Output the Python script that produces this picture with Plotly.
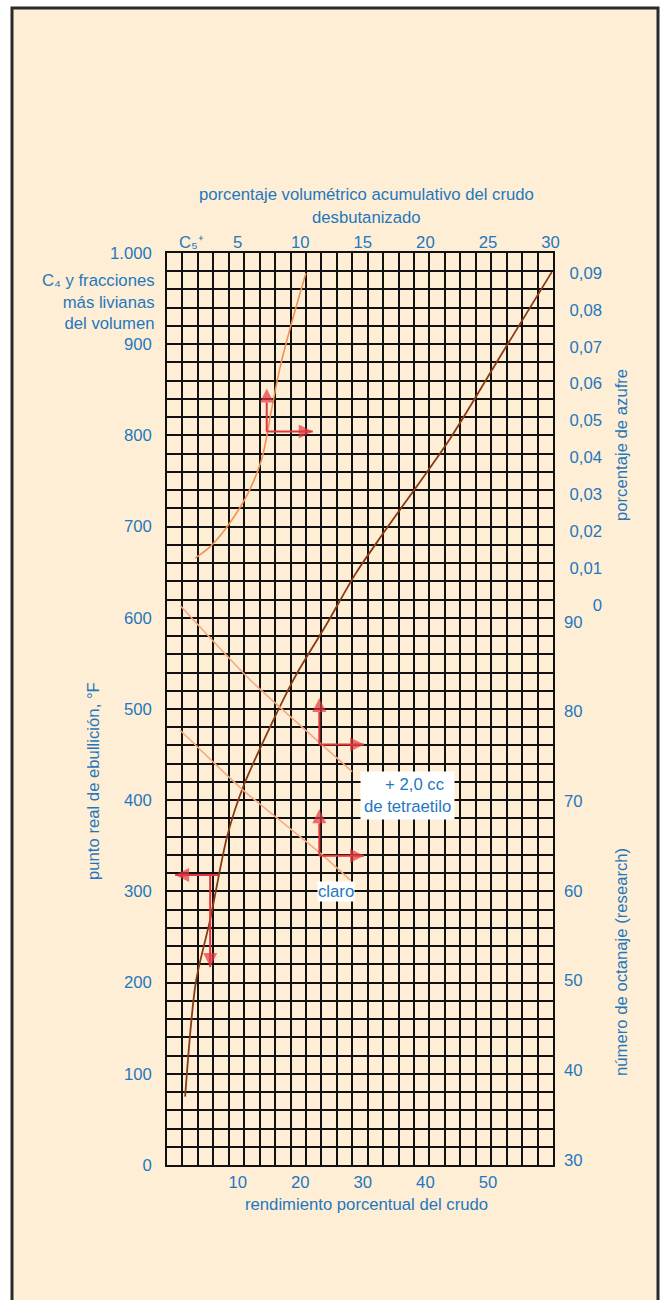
import plotly.graph_objects as go

# ---------------- data ----------------
# True boiling point curve (bottom axis: % crude yield, left axis: °F)
tbp_yield = [1.6, 3.3, 5.6, 8.3, 10.9, 18.9, 24.3, 28.9, 33.4, 44.0, 51.9, 60.2]
tbp_temp = [75, 200, 269, 360, 415, 532, 594, 649, 694, 797, 886, 979]

# Sulfur curve (bottom axis, sulfur %)
sulf_yield = [3.2, 5.6, 8.3, 11.5, 13.8, 15.4, 16.8, 18.4, 20.9]
sulf_pct = [0.0127, 0.0158, 0.0212, 0.0298, 0.0393, 0.0529, 0.0646, 0.0751, 0.0899]

# Octane number lines (bottom axis, research octane)
oct_tel_yield = [0.8, 12.0, 28.3]
oct_tel = [91.8, 83.5, 73.3]
oct_clear_yield = [0.8, 10.9, 23.2, 28.0]
oct_clear = [77.9, 71.2, 64.2, 61.2]

# tick labels
temp_ticks = [0, 100, 200, 300, 400, 500, 600, 700, 800, 900, 1000]
temp_text = ["0", "100", "200", "300", "400", "500", "600", "700", "800", "900", "1.000"]
yield_ticks = [10, 20, 30, 40, 50]
debut_ticks = [1.3, 5, 10, 15, 20, 25, 30]
debut_text = ["C\u2085\u207a", "5", "10", "15", "20", "25", "30"]
sulf_ticks = [0, 0.01, 0.02, 0.03, 0.04, 0.05, 0.06, 0.07, 0.08, 0.09]
sulf_text = ["0", "0,01", "0,02", "0,03", "0,04", "0,05", "0,06", "0,07", "0,08", "0,09"]
oct_ticks = [30, 40, 50, 60, 70, 80, 90]

# reading arrows: corner point and arrow tips
sulf_arrow = dict(x=14.64, y=0.0470, up=0.0587, right=22.0)
oct_tel_arrow = dict(x=23.05, y=76.3, up=81.5, right=30.2)
oct_clear_arrow = dict(x=23.05, y=63.9, up=69.1, right=30.2)
tbp_arrow = dict(x=6.9, y=318, left=0.0, down_x=5.6, down=217)

# ---------------- style ----------------
BG = "#FEEED6"
BLUE = "#1f78bd"
GRID = "#111111"
BROWN = "#8a3a10"
ORANGE = "#f29150"
SALMON = "#f6a882"
RED = "#e2363e"
FONT = "Liberation Sans, Arial, sans-serif"
FS = 16.7

W, H = 661, 1300
ML, MR, MT, MB = 167, 40, 253, 135
PW = W - ML - MR
PH = H - MT - MB


def px(xp):
    return (xp - ML) / PW


def py(yp):
    return (H - MB - yp) / PH


fig = go.Figure()
# empty traces so that the grid axis and the top axis are drawn
fig.add_trace(go.Scatter(x=[], y=[], xaxis="x", yaxis="y", showlegend=False, hoverinfo="skip"))
fig.add_trace(go.Scatter(x=[], y=[], xaxis="x3", yaxis="y", showlegend=False, hoverinfo="skip"))
fig.add_trace(go.Scatter(x=tbp_yield, y=tbp_temp, xaxis="x2", yaxis="y", mode="lines",
                         line=dict(color=BROWN, width=1.8, shape="spline", smoothing=0.8),
                         showlegend=False))
fig.add_trace(go.Scatter(x=sulf_yield, y=sulf_pct, xaxis="x2", yaxis="y2", mode="lines",
                         line=dict(color=ORANGE, width=1.6, shape="spline", smoothing=1.0),
                         showlegend=False))
fig.add_trace(go.Scatter(x=oct_tel_yield, y=oct_tel, xaxis="x2", yaxis="y3", mode="lines",
                         line=dict(color=SALMON, width=1.6, shape="spline", smoothing=0.5),
                         showlegend=False))
fig.add_trace(go.Scatter(x=oct_clear_yield, y=oct_clear, xaxis="x2", yaxis="y3", mode="lines",
                         line=dict(color=SALMON, width=1.6, shape="spline", smoothing=0.5),
                         showlegend=False))


def arrow_trace(x0, y0, x1, y1, yaxis, symbol):
    return go.Scatter(x=[x0, x1], y=[y0, y1], xaxis="x2", yaxis=yaxis, mode="lines+markers",
                      line=dict(color=RED, width=2),
                      marker=dict(symbol=["circle", symbol], size=[0, 14], color=RED,
                                  line=dict(width=0)),
                      showlegend=False, hoverinfo="skip")


for a, yr in [(sulf_arrow, "y2"), (oct_tel_arrow, "y3"), (oct_clear_arrow, "y3")]:
    fig.add_trace(arrow_trace(a["x"], a["y"], a["x"], a["up"], yr, "arrow-up"))
    fig.add_trace(arrow_trace(a["x"], a["y"], a["right"], a["y"], yr, "arrow-right"))
fig.add_trace(arrow_trace(tbp_arrow["x"], tbp_arrow["y"], tbp_arrow["left"], tbp_arrow["y"], "y", "arrow-left"))
fig.add_trace(arrow_trace(tbp_arrow["down_x"], tbp_arrow["y"], tbp_arrow["down_x"], tbp_arrow["down"], "y", "arrow-down"))

tickfont = dict(family=FONT, size=FS, color=BLUE)
xdom = [0, (553 - ML) / PW]

fig.update_layout(
    width=W, height=H, autosize=False,
    margin=dict(l=ML, r=MR, t=MT, b=MB, pad=0),
    paper_bgcolor="white", plot_bgcolor="rgba(0,0,0,0)",
    font=dict(family=FONT, size=FS, color=BLUE),
    showlegend=False,
    xaxis=dict(domain=xdom, range=[0, 25], tickmode="linear", tick0=0, dtick=1,
               showgrid=True, gridcolor=GRID, gridwidth=1.5, showticklabels=False,
               ticks="", zeroline=False, showline=True, linecolor=GRID, linewidth=1.6,
               mirror=True, anchor="y", fixedrange=True),
    yaxis=dict(domain=[0, 1], range=[0, 1000], tickmode="array", tickvals=temp_ticks,
               ticktext=temp_text, showgrid=True, gridcolor=GRID, gridwidth=1.5,
               minor=dict(tickmode="linear", tick0=0, dtick=20, showgrid=True,
                          gridcolor=GRID, gridwidth=1.5, ticks=""),
               ticks="", ticklabelstandoff=10, tickfont=tickfont, zeroline=False,
               showline=True, linecolor=GRID, linewidth=1.6, mirror=True, anchor="x",
               fixedrange=True),
    xaxis2=dict(overlaying="x", anchor="y", side="bottom", range=[-1.3, 60.4],
                tickmode="array", tickvals=yield_ticks, showgrid=False, zeroline=False,
                showline=False, ticks="", ticklabelstandoff=5, tickfont=tickfont,
                fixedrange=True),
    xaxis3=dict(overlaying="x", anchor="y", side="top", range=[-0.65, 30.2],
                tickmode="array", tickvals=debut_ticks, ticktext=debut_text,
                showgrid=False, zeroline=False, showline=False, ticks="",
                ticklabelstandoff=1, tickfont=tickfont, fixedrange=True),
    yaxis2=dict(overlaying="y", anchor="free", position=px(605), side="right",
                range=[-0.1518, 0.0954], tickmode="array", tickvals=sulf_ticks,
                ticktext=sulf_text, ticklabelposition="inside", showgrid=False,
                zeroline=False, showline=False, ticks="", tickfont=tickfont,
                fixedrange=True),
    yaxis3=dict(overlaying="y", anchor="x", side="right", range=[29.44, 131.1],
                tickmode="array", tickvals=oct_ticks, showgrid=False, zeroline=False,
                showline=False, ticks="", ticklabelstandoff=10, tickfont=tickfont,
                fixedrange=True),
)

# frame
fig.add_shape(type="rect", xref="paper", yref="paper", layer="below",
              x0=px(12), x1=px(658), y0=py(1320), y1=py(8),
              fillcolor=BG, line=dict(color="#2a2a2a", width=3))

ann = []
ann.append(dict(text="porcentaje volumétrico acumulativo del crudo", x=px(366), y=py(195),
                xref="paper", yref="paper", showarrow=False, xanchor="center", yanchor="middle"))
ann.append(dict(text="desbutanizado", x=px(366), y=py(217), xref="paper", yref="paper",
                showarrow=False, xanchor="center", yanchor="middle"))
ann.append(dict(text="rendimiento porcentual del crudo", x=px(366), y=py(1204),
                xref="paper", yref="paper", showarrow=False, xanchor="center", yanchor="middle"))
ann.append(dict(text="punto real de ebullición, °F", x=px(93), y=py(781), textangle=-90,
                xref="paper", yref="paper", showarrow=False, xanchor="center", yanchor="middle"))
ann.append(dict(text="C\u2084 y fracciones<br>más livianas<br>del volumen", x=px(157),
                y=py(302), xref="paper", yref="paper", showarrow=False, xanchor="right",
                yanchor="middle", align="right"))
ann.append(dict(text="porcentaje de azufre", x=px(621), y=py(445), textangle=-90,
                xref="paper", yref="paper", showarrow=False, xanchor="center", yanchor="middle"))
ann.append(dict(text="número de octanaje (research)", x=px(621), y=py(962), textangle=-90,
                xref="paper", yref="paper", showarrow=False, xanchor="center", yanchor="middle"))
ann.append(dict(text="\u00a0\u00a0\u00a0+ 2,0 cc<br>de tetraetilo", x=px(407), y=py(795),
                xref="paper", yref="paper", showarrow=False, xanchor="center", yanchor="middle",
                bgcolor="white", borderpad=3, align="center"))
ann.append(dict(text="claro", x=px(336), y=py(891), xref="paper", yref="paper",
                showarrow=False, xanchor="center", yanchor="middle", bgcolor="white",
                borderpad=0))

fig.update_layout(annotations=ann)
fig.write_html("out.html", config={"displayModeBar": False},
               post_script="document.body.style.margin='0';")
